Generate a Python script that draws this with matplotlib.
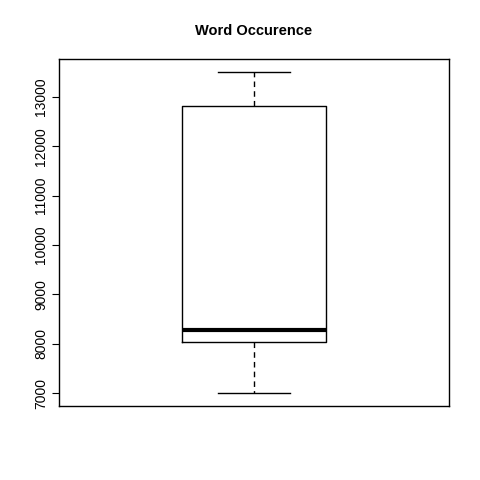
"""Boxplot of word occurrence, R base-graphics style."""

import matplotlib

matplotlib.use("Agg")
import matplotlib.pyplot as plt  # noqa: E402

# ── Data (five-number summary) ───────────────────────────────────────────────

WHISKER_LOW = 7000
Q1 = 8045
MEDIAN = 8275
Q3 = 12820
WHISKER_HIGH = 13510

Y_TICKS = [7000, 8000, 9000, 10000, 11000, 12000, 13000]

stats = [
    {
        "whislo": WHISKER_LOW,
        "q1": Q1,
        "med": MEDIAN,
        "q3": Q3,
        "whishi": WHISKER_HIGH,
        "fliers": [],
    }
]

# ── Chart ────────────────────────────────────────────────────────────────────

plt.rcParams["font.family"] = ["Liberation Sans", "DejaVu Sans"]

fig = plt.figure(figsize=(4.8, 4.8), dpi=100)
ax = fig.add_axes([59 / 480, 74 / 480, 390 / 480, 347 / 480])

ax.bxp(
    stats,
    positions=[1],
    widths=0.369,
    showfliers=False,
    boxprops={"color": "black", "linewidth": 1.0},
    medianprops={"color": "black", "linewidth": 3.0, "solid_capstyle": "butt"},
    whiskerprops={"color": "black", "linewidth": 1.0, "linestyle": (0, (4, 3))},
    capprops={"color": "black", "linewidth": 1.0},
    capwidths=0.185,
)

span = WHISKER_HIGH - WHISKER_LOW
ax.set_xlim(0.5, 1.5)
ax.set_ylim(WHISKER_LOW - 0.04 * span, WHISKER_HIGH + 0.04 * span)
ax.set_xticks([])
ax.set_yticks(Y_TICKS)
ax.set_yticklabels([str(t) for t in Y_TICKS], rotation=90, va="center", fontsize=10)
ax.tick_params(axis="y", length=5, width=0.8, pad=3)
for s in ax.spines.values():
    s.set_linewidth(1.0)

fig.text(254 / 480, 1 - 31 / 480, "Word Occurence", ha="center", va="center",
         fontsize=10.5, fontweight="bold")

fig.savefig("out.png", dpi=100)
plt.close(fig)
